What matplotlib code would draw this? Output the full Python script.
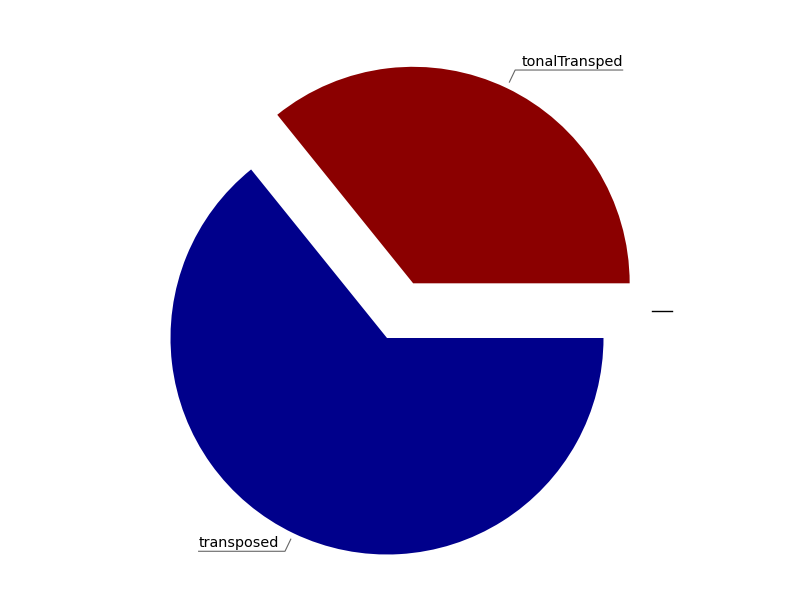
import numpy as np
import matplotlib.pyplot as plt

labels = ['tonalTransped', 'transposed']
values = [35.8, 64.2]
colors = ['#8b0000', '#00008b']
explode = [0.28, 0.0]

R = 216.5  # pixel radius
cx, cy = 387, 338  # pie centre in pixels (top-left origin)

fig = plt.figure(figsize=(8, 6), dpi=100)
ax = fig.add_axes([0, 0, 1, 1])
ax.set_aspect('equal')
ax.axis('off')

wedges, _ = ax.pie(values, colors=colors, explode=explode, startangle=0,
                   counterclock=True, radius=1, wedgeprops=dict(linewidth=0))
ax.set_xlim(-cx / R, (800 - cx) / R)
ax.set_ylim(-(600 - cy) / R, cy / R)

fig.canvas.draw()
rend = fig.canvas.get_renderer()
for w, lab, ex in zip(wedges, labels, explode):
    mid = np.deg2rad((w.theta1 + w.theta2) / 2)
    c, s = np.cos(mid), np.sin(mid)
    ox, oy = ex * c, ex * s
    p0 = (ox + 1.03 * c, oy + 1.03 * s)
    p1 = (ox + 1.092 * c, oy + 1.092 * s)
    t = ax.text(0, 0, lab, fontsize=10.4, color='black')
    bb = t.get_window_extent(renderer=rend)
    tw = bb.width / R
    t.remove()
    side = 1 if c >= 0 else -1
    pad = 6 / R
    p2 = (p1[0] + side * (tw + pad), p1[1])
    ax.plot([p0[0], p1[0], p2[0]], [p0[1], p1[1], p2[1]], color='#666666', lw=0.8)
    tx = p1[0] + pad if side > 0 else p2[0]
    ax.text(tx, p1[1] + 1.5 / R, lab, fontsize=10.4, color='black',
            ha='left', va='bottom')

# small dash marker at right
ax.plot([1.224, 1.316], [0.125, 0.125], color='black', lw=1)

fig.savefig('out.png', dpi=100)
